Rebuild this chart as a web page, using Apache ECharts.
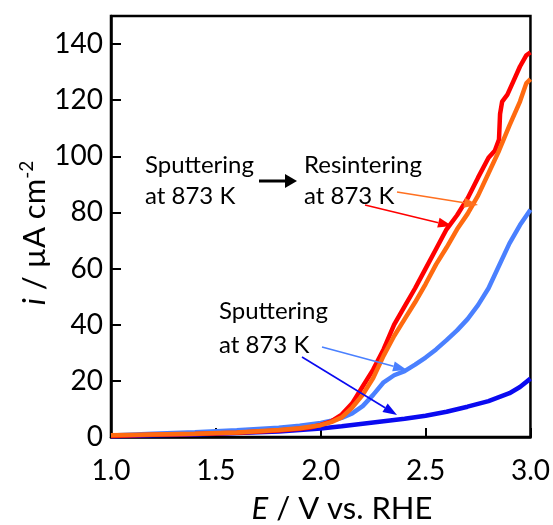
<!DOCTYPE html>
<html>
<head>
<meta charset="utf-8">
<script src="https://cdn.jsdelivr.net/npm/echarts@6/dist/echarts.min.js"></script>
<style>
html,body{margin:0;padding:0;background:#fff;}
#c{width:553px;height:525px;}
</style>
</head>
<body>
<div id="c"></div>
<script>
// ---- data (E / V vs. RHE, i / µA cm-2) ----
var xTicks = [1.0, 1.5, 2.0, 2.5, 3.0];
var yTicks = [0, 20, 40, 60, 80, 100, 120, 140];

var sputDarkE = [1.0, 1.2, 1.4, 1.6, 1.8, 1.9, 2.0, 2.1, 2.2, 2.3, 2.4, 2.5, 2.6, 2.7, 2.8, 2.9, 2.95, 3.0];
var sputDarkI = [0.3, 0.6, 0.9, 1.4, 2.0, 2.5, 3.0, 3.8, 4.7, 5.6, 6.5, 7.6, 9.0, 10.8, 12.8, 15.6, 17.8, 20.8];

var sputLightE = [1.0, 1.2, 1.4, 1.6, 1.8, 1.9, 2.0, 2.05, 2.1, 2.15, 2.2, 2.25, 2.3, 2.35, 2.4, 2.45, 2.5, 2.55, 2.6, 2.65, 2.7, 2.75, 2.8, 2.85, 2.9, 2.95, 3.0];
var sputLightI = [0.5, 1.2, 1.7, 2.4, 3.3, 4.0, 5.0, 5.8, 6.8, 8.4, 11.0, 15.0, 19.5, 22.0, 23.5, 25.8, 28.3, 31.2, 34.5, 38.0, 42.0, 47.0, 53.0, 61.0, 69.0, 75.5, 81.0];

var resRedE = [1.0, 1.2, 1.4, 1.6, 1.8, 1.9, 1.95, 2.0, 2.05, 2.1, 2.15, 2.2, 2.25, 2.3, 2.35, 2.4, 2.45, 2.5, 2.55, 2.6, 2.65, 2.7, 2.75, 2.8, 2.83, 2.85, 2.855, 2.865, 2.89, 2.92, 2.95, 2.98, 3.0];
var resRedI = [0.4, 0.8, 1.1, 1.5, 2.3, 2.9, 3.4, 4.3, 5.6, 8.0, 12.0, 18.0, 24.0, 31.3, 40.0, 46.5, 53.0, 60.0, 67.0, 74.0, 79.0, 85.0, 92.4, 99.5, 102.0, 106.0, 115.0, 119.5, 122.0, 127.0, 132.0, 136.0, 137.0];

var resOrangeE = [1.0, 1.2, 1.4, 1.6, 1.8, 1.9, 2.0, 2.05, 2.1, 2.15, 2.2, 2.25, 2.3, 2.35, 2.4, 2.45, 2.5, 2.55, 2.6, 2.65, 2.7, 2.75, 2.8, 2.85, 2.9, 2.95, 2.98, 3.0];
var resOrangeI = [0.6, 0.9, 1.2, 1.6, 2.5, 3.1, 4.2, 5.3, 7.0, 10.5, 15.0, 21.0, 29.0, 36.0, 42.0, 48.0, 54.5, 61.5, 67.5, 74.0, 79.5, 86.0, 94.0, 102.0, 111.0, 119.5, 126.0, 127.5];

function pairs(xs, ys) { return xs.map(function (x, k) { return [x, ys[k]]; }); }

var FONT = 'Lato, "Open Sans", sans-serif';
var chart = echarts.init(document.getElementById('c'), null, {renderer: 'canvas'});

function lineSeries(name, xs, ys, color) {
  return {
    name: name, type: 'line', data: pairs(xs, ys), showSymbol: false, symbol: 'none',
    lineStyle: {color: color, width: 4.5}, animation: false, z: 3
  };
}

var option = {
  animation: false,
  backgroundColor: '#fff',
  grid: {left: 111, right: 16, top: 16, bottom: 88, show: true, borderColor: '#000', borderWidth: 2.5, backgroundColor: 'transparent'},
  xAxis: {
    type: 'value', min: xTicks[0], max: xTicks[xTicks.length - 1], interval: 0.5,
    axisLine: {show: true, lineStyle: {color: '#000', width: 2.5}},
    axisTick: {show: true, inside: true, length: 9, lineStyle: {color: '#000', width: 2}},
    splitLine: {show: false},
    axisLabel: {color: '#000', fontSize: 28, fontFamily: FONT, margin: 20,
      formatter: function (v) { return v.toFixed(1); }}
  },
  yAxis: {
    type: 'value', min: yTicks[0], max: 150, interval: 20,
    axisLine: {show: true, lineStyle: {color: '#000', width: 2.5}},
    axisTick: {show: true, inside: true, length: 10, lineStyle: {color: '#000', width: 2}},
    splitLine: {show: false},
    axisLabel: {color: '#000', fontSize: 28, fontFamily: FONT, margin: 8, showMaxLabel: false,
      formatter: function (v) { return yTicks.indexOf(v) >= 0 ? String(v) : ''; }}
  },
  series: [
    lineSeries('Sputtering (dark)', sputDarkE, sputDarkI, '#0a0af0'),
    lineSeries('Sputtering (light)', sputLightE, sputLightI, '#4a80ff'),
    lineSeries('Resintering (red)', resRedE, resRedI, '#ff0000'),
    lineSeries('Resintering (orange)', resOrangeE, resOrangeI, '#ff6a10')
  ]
};
chart.setOption(option);

function arrow(x1, y1, x2, y2, color, w, head, hw) {
  var ang = Math.atan2(y2 - y1, x2 - x1);
  var bx = x2 - head * Math.cos(ang), by = y2 - head * Math.sin(ang);
  var px = -Math.sin(ang) * hw, py = Math.cos(ang) * hw;
  return [
    {type: 'line', shape: {x1: x1, y1: y1, x2: bx, y2: by}, style: {stroke: color, lineWidth: w}, z: 10},
    {type: 'polygon', shape: {points: [[x2, y2], [bx + px, by + py], [bx - px, by - py]]}, style: {fill: color}, z: 10}
  ];
}

var g = [];
function txt(s, x, y, size) {
  g.push({type: 'text', x: x, y: y, z: 10, style: {text: s, font: 'normal ' + (size || 24) + 'px ' + FONT, fill: '#000', textAlign: 'left', textVerticalAlign: 'bottom'}});
}
txt('Sputtering', 145, 177);
txt('at 873 K', 145, 208);
txt('Resintering', 304, 177);
txt('at 873 K', 304, 208);
txt('Sputtering', 219, 323);
txt('at 873 K', 219, 357);
g = g.concat(arrow(259, 181, 297, 181, '#000', 3, 12, 7));
g = g.concat(arrow(397, 192, 478, 205, '#ff7020', 1.6, 14, 5));
g = g.concat(arrow(365, 205, 452, 226, '#ff0000', 1.6, 14, 5));
g = g.concat(arrow(322, 347, 407, 370, '#4a80ff', 1.6, 14, 5));
g = g.concat(arrow(302, 357, 397, 415, '#0a0af0', 1.6, 14, 5));

// axis titles
g.push({type: 'text', x: 342, y: 509, z: 10,
  style: {text: '{it|E} / V vs. RHE', fill: '#000', textAlign: 'center', textVerticalAlign: 'middle',
    font: 'normal 31px ' + FONT,
    rich: {it: {fontStyle: 'italic', fontSize: 31, fontFamily: FONT}}}});
g.push({type: 'text', x: 35, y: 233, rotation: Math.PI / 2, z: 10,
  style: {text: '{it|i} / µA cm{sup|-2}', fill: '#000', textAlign: 'center', textVerticalAlign: 'middle',
    font: 'normal 31px ' + FONT,
    rich: {it: {fontStyle: 'italic', fontSize: 31, fontFamily: FONT, lineHeight: 36},
           sup: {fontSize: 19, fontFamily: FONT, verticalAlign: 'top', lineHeight: 36}}}});

chart.setOption({graphic: g});
</script>
</body>
</html>
